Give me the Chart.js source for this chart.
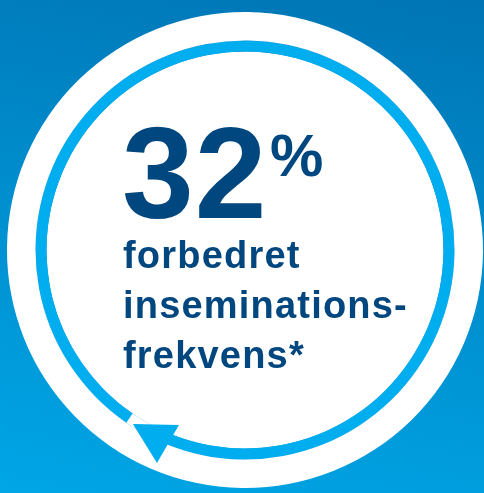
<!DOCTYPE html>
<html>
<head>
<meta charset="utf-8">
<script src="https://cdn.jsdelivr.net/npm/chart.js@4"></script>
<style>
  html, body { margin: 0; padding: 0; }
  body {
    width: 484px; height: 493px; overflow: hidden;
    background: linear-gradient(192deg, #0074b4 0%, #008ccc 45%, #00a6e6 100%);
  }
  #wrap { width: 484px; height: 493px; }
</style>
</head>
<body>
<div id="wrap"><canvas id="cycleChart"></canvas></div>
<script>
// ring segments in degrees: the arrow arc and the gap before its tail
const ringLabels = ["Cycle", "Gap"];
const ringValues = [347.5, 12.5];
const ringRotation = 214.5;

// ring thickness (px) from outside to centre: white band, blue ring, white face
const ringWeights = [28.5, 11, 198.5];

const headline = "32";
const headlineUnit = "%";
const caption = ["forbedret", "inseminations-", "frekvens*"];

const WHITE = "#ffffff";
const RING  = "#00adee";
const NAVY  = "#00467f";

// arrowhead sitting on the end of the blue arc
const arrowHead = {
  id: "arrowHead",
  afterDatasetsDraw(chart) {
    const arc = chart.getDatasetMeta(1).data[0];
    if (!arc) return;
    const { x, y, outerRadius, innerRadius, endAngle } = arc.getProps(["x", "y", "outerRadius", "innerRadius", "endAngle"]);
    const r = (outerRadius + innerRadius) / 2;
    const n = [Math.cos(endAngle), Math.sin(endAngle)];
    const t = [-Math.sin(endAngle), Math.cos(endAngle)];
    const px = x + r * n[0], py = y + r * n[1];
    const pt = (along, out) => [px + t[0] * along + n[0] * out, py + t[1] * along + n[1] * out];
    const tip = pt(38.7, -0.6), a = pt(-4.3, -17), b = pt(1.8, 26.5);
    const ctx = chart.ctx;
    ctx.save();
    ctx.fillStyle = RING;
    ctx.beginPath();
    ctx.moveTo(tip[0], tip[1]);
    ctx.lineTo(a[0], a[1]);
    ctx.lineTo(b[0], b[1]);
    ctx.closePath();
    ctx.fill();
    ctx.restore();
  }
};

const centreText = {
  id: "centreText",
  afterDraw(chart) {
    const arc = chart.getDatasetMeta(0).data[0];
    const cx = arc.x, cy = arc.y;
    const ctx = chart.ctx;
    ctx.save();
    ctx.fillStyle = NAVY;
    ctx.textAlign = "left";
    ctx.textBaseline = "alphabetic";

    ctx.font = 'bold 129px "Liberation Sans", Arial, sans-serif';
    ctx.letterSpacing = "1px";
    ctx.fillText(headline, cx - 123, cy - 32);

    ctx.font = 'bold 60px "Liberation Sans", Arial, sans-serif';
    ctx.letterSpacing = "0px";
    ctx.fillText(headlineUnit, cx + 25, cy - 74);

    ctx.font = 'bold 38px "Liberation Sans", Arial, sans-serif';
    ctx.letterSpacing = "1.2px";
    caption.forEach((line, i) => ctx.fillText(line, cx - 122, cy + 18 + i * 50));
    ctx.restore();
  }
};

new Chart(document.getElementById("cycleChart"), {
  type: "doughnut",
  data: {
    labels: ringLabels,
    datasets: [
      { data: [360], backgroundColor: [WHITE], borderWidth: 0, weight: ringWeights[0] },
      { data: ringValues, backgroundColor: [RING, WHITE], borderWidth: 0, weight: ringWeights[1] },
      { data: [360], backgroundColor: [WHITE], borderWidth: 0, weight: ringWeights[2] }
    ]
  },
  options: {
    responsive: true,
    maintainAspectRatio: false,
    animation: false,
    events: [],
    cutout: 0,
    radius: 238,
    rotation: ringRotation,
    layout: { padding: { left: 6, right: 0, top: 7, bottom: 0 } },
    plugins: {
      legend: { display: false },
      tooltip: { enabled: false }
    }
  },
  plugins: [arrowHead, centreText]
});
</script>
</body>
</html>
